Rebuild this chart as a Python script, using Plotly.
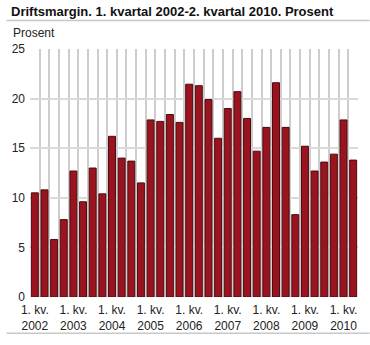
import plotly.graph_objects as go

years = [2002]*4 + [2003]*4 + [2004]*4 + [2005]*4 + [2006]*4 + [2007]*4 + [2008]*4 + [2009]*4 + [2010]*2
quarters = [1, 2, 3, 4]*8 + [1, 2]
values = [10.5, 10.8, 5.8, 7.8, 12.7, 9.6, 13.0, 10.4,
          16.2, 14.0, 13.7, 11.5, 17.85, 17.7, 18.4, 17.6,
          21.45, 21.3, 19.9, 16.0, 19.0, 20.7, 18.0, 14.7,
          17.1, 21.6, 17.1, 8.3, 15.2, 12.7, 13.6, 14.4,
          17.85, 13.8]
labels = [f"{q}. kv. {y}" for q, y in zip(quarters, years)]

xs = list(range(len(values)))
tickvals = [i for i, q in enumerate(quarters) if q == 1]
ticktext = [f"1. kv.<br>{years[i]}" for i in tickvals]

fig = go.Figure()
fig.add_trace(go.Bar(
    x=xs, y=values, hovertext=labels, hoverinfo="text+y",
    marker=dict(color="#99141f", line=dict(color="#4d0a10", width=1)),
    width=0.72,
))

W, H = 370, 345
ml, mr, mt, mb = 24, 12, 48.5, 39.5
pw, ph = W - ml - mr, H - mt - mb

def px_x(p):
    return (p - ml) / pw

def px_y(p):
    return (H - mb - p) / ph

xr = [-0.5, len(values) - 0.5]

fig.update_layout(
    width=W, height=H,
    margin=dict(l=ml, r=mr, t=mt, b=mb, pad=0),
    paper_bgcolor="white", plot_bgcolor="white",
    font=dict(family="Liberation Sans, Arial, sans-serif", size=12, color="#222222"),
    showlegend=False,
    xaxis=dict(
        range=xr, tickmode="array", tickvals=tickvals, ticktext=ticktext,
        showgrid=False, zeroline=False, showline=False, ticks="",
        ticklabelstandoff=4, fixedrange=True,
        minor=dict(tickmode="array", tickvals=[i - 0.5 for i in range(len(values) + 1)],
                   showgrid=True, gridcolor="#cdcdcd", gridwidth=1.5),
    ),
    yaxis=dict(
        range=[0, 25], tickmode="linear", tick0=0, dtick=5,
        showgrid=True, gridcolor="#d9d9d9", gridwidth=1.5,
        zeroline=False, showline=False, ticks="",
        ticklabelstandoff=4, fixedrange=True,
    ),
    annotations=[
        dict(text="<b>Driftsmargin. 1. kvartal 2002-2. kvartal 2010. Prosent</b>",
             xref="paper", yref="paper", x=px_x(3), y=px_y(10), xanchor="left", yanchor="middle",
             showarrow=False, font=dict(size=13, color="#111111")),
        dict(text="Prosent", xref="paper", yref="paper", x=px_x(5), y=px_y(32),
             xanchor="left", yanchor="middle", showarrow=False, font=dict(size=12, color="#222222")),
    ],
    shapes=[
        dict(type="line", xref="paper", yref="paper", x0=px_x(0), x1=px_x(370), y0=px_y(19), y1=px_y(19),
             line=dict(color="#c8c8c8", width=1.5)),
        dict(type="line", xref="paper", yref="paper", x0=px_x(0), x1=px_x(370), y0=px_y(343), y1=px_y(343),
             line=dict(color="#c8c8c8", width=1.5)),
    ],
)

fig.write_html("out.html")
